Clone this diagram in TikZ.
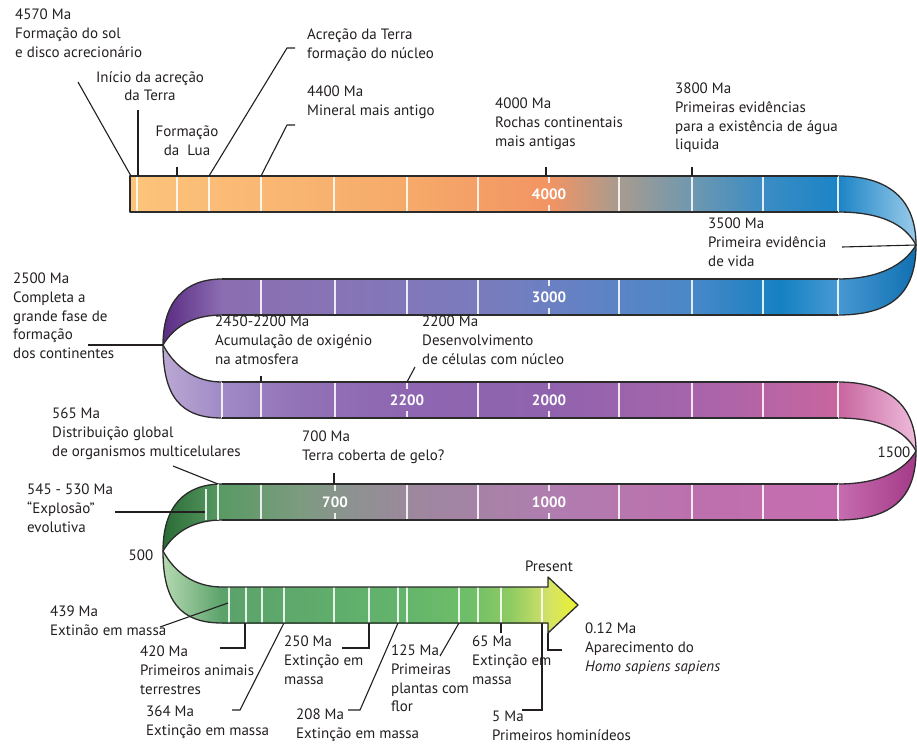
\documentclass[tikz,border=0pt]{standalone}
\usepackage{fontspec}
\setmainfont{PT Sans}
\newcommand\lblfont{\fontsize{15}{18.7}\selectfont}

\definecolor{ink}{HTML}{231F20}
\definecolor{rim}{HTML}{2B2B2B}
% ribbon colours, band by band
\definecolor{ba1}{HTML}{FCC47B}\definecolor{ba2}{HTML}{F6AA6A}\definecolor{ba3}{HTML}{F29463}
\definecolor{ba4}{HTML}{A79B90}\definecolor{ba5}{HTML}{6E98B0}\definecolor{ba6}{HTML}{3C8CC4}\definecolor{ba7}{HTML}{1B84C6}
\definecolor{bb1}{HTML}{8B6DB1}\definecolor{bb2}{HTML}{8774B6}\definecolor{bb3}{HTML}{7A7BBD}
\definecolor{bb4}{HTML}{6B80C2}\definecolor{bb5}{HTML}{4988C8}\definecolor{bb6}{HTML}{1581C2}\definecolor{bb7}{HTML}{4799D2}
\definecolor{bc1}{HTML}{A08AC6}\definecolor{bc2}{HTML}{9272B6}\definecolor{bc3}{HTML}{8E66B1}
\definecolor{bc4}{HTML}{9063AE}\definecolor{bc5}{HTML}{A864AB}\definecolor{bc6}{HTML}{C8659F}
\definecolor{bd1}{HTML}{5A9A64}\definecolor{bd2}{HTML}{7C9B80}\definecolor{bd3}{HTML}{8D9290}
\definecolor{bd4}{HTML}{9E879F}\definecolor{bd5}{HTML}{B07DAF}\definecolor{bd6}{HTML}{BD70AE}\definecolor{bd7}{HTML}{C66DB0}
\definecolor{be1}{HTML}{5BA26B}\definecolor{be2}{HTML}{63B46C}\definecolor{be3}{HTML}{6FBE68}
\definecolor{be4}{HTML}{8FCB63}\definecolor{be5}{HTML}{D3E267}
% colours of the turns
\definecolor{ta}{HTML}{9ACBEA}\definecolor{tb}{HTML}{1170B2}
\definecolor{tc}{HTML}{5A2C83}\definecolor{td}{HTML}{BBA8D3}
\definecolor{te}{HTML}{EEBCDB}\definecolor{tf}{HTML}{A43A88}
\definecolor{tg}{HTML}{2A6C37}\definecolor{th}{HTML}{B5D9B1}

\pgfdeclarehorizontalshading{bandone}{100bp}{color(0bp)=(ba1); color(25bp)=(ba1); color(44.6bp)=(ba2); color(54.6bp)=(ba3); color(59.6bp)=(ba4); color(64.7bp)=(ba5); color(69.7bp)=(ba6); color(75bp)=(ba7); color(100bp)=(ba7)}
\pgfdeclarehorizontalshading{bandtwo}{100bp}{color(0bp)=(bb1); color(25bp)=(bb1); color(34.2bp)=(bb2); color(45.8bp)=(bb3); color(51.5bp)=(bb4); color(63.1bp)=(bb5); color(70.3bp)=(bb6); color(75bp)=(bb7); color(100bp)=(bb7)}
\pgfdeclarehorizontalshading{bandthree}{100bp}{color(0bp)=(bc1); color(25bp)=(bc1); color(31.3bp)=(bc2); color(40bp)=(bc3); color(51.5bp)=(bc4); color(63.8bp)=(bc5); color(75bp)=(bc6); color(100bp)=(bc6)}
\pgfdeclarehorizontalshading{bandfour}{100bp}{color(0bp)=(bd1); color(25bp)=(bd1); color(31.3bp)=(bd2); color(35.4bp)=(bd3); color(41.1bp)=(bd4); color(51.5bp)=(bd5); color(63.8bp)=(bd6); color(75bp)=(bd7); color(100bp)=(bd7)}
\pgfdeclarehorizontalshading{bandfive}{100bp}{color(0bp)=(be1); color(25bp)=(be1); color(52.3bp)=(be2); color(63bp)=(be3); color(69.2bp)=(be4); color(75bp)=(be5); color(100bp)=(be5)}

\tikzset{
  rim/.style={draw=rim,line width=1.3pt,line join=round},
  tick/.style={draw=white,line width=1.4pt,opacity=.85},
  lead/.style={draw=ink,line width=1.1pt},
  lbl/.style={anchor=north west,inner sep=0pt,align=left,text=ink,font=\lblfont,execute at begin node=\rule{0pt}{14pt}},
  lblc/.style={lbl,anchor=north,align=center},
  num/.style={text=white,font=\lblfont\bfseries,inner sep=0pt},
}

% turn of the ribbon: top of upper band : apex : top of lower band
\def\turnright(#1:#2:#3)(#4)(#5){%
  \shade[#4] (838,#1) .. controls (895,#1) and (916,#1+29) .. (916,#2) .. controls (905,#2-21) and (880,#1+36) .. (838,#1+36) -- cycle;
  \shade[#5] (916,#2) .. controls (905,#2+19) and (880,#3) .. (838,#3) -- (838,#3+36) .. controls (895,#3+36) and (916,#3+11) .. (916,#2) -- cycle;
  \draw[rim] (838,#1) .. controls (895,#1) and (916,#1+29) .. (916,#2) .. controls (916,#3+11) and (895,#3+36) .. (838,#3+36);
  \draw[rim] (838,#1+36) .. controls (880,#1+36) and (905,#2-21) .. (916,#2) .. controls (905,#2+19) and (880,#3) .. (838,#3);
}
\def\turnleft(#1:#2:#3)(#4)(#5){%
  \shade[#4] (222,#1) .. controls (185,#1) and (163,#1+22) .. (163,#2) .. controls (175,#2-20) and (195,#1+36) .. (222,#1+36) -- cycle;
  \shade[#5] (163,#2) .. controls (175,#2+22) and (195,#3) .. (222,#3) -- (222,#3+36) .. controls (180,#3+36) and (163,#3+14) .. (163,#2) -- cycle;
  \draw[rim] (222,#1) .. controls (185,#1) and (163,#1+22) .. (163,#2) .. controls (175,#2+22) and (195,#3) .. (222,#3);
  \draw[rim] (222,#1+36) .. controls (195,#1+36) and (175,#2-20) .. (163,#2) .. controls (163,#3+14) and (180,#3+36) .. (222,#3+36);
}

\begin{document}
\begin{tikzpicture}[x=1pt,y=-1pt]
\useasboundingbox (0,0) rectangle (917,747);

% straight bands
\shade[shading=bandone] (130,176) rectangle (838,212);
\shade[shading=bandtwo] (222,279) rectangle (838,315);
\shade[shading=bandthree] (222,382) rectangle (838,418);
\shade[shading=bandfour] (222,484) rectangle (838,520);
\shade[shading=bandfive] (222,587) rectangle (548,623);
\shade[left color=be5,right color=yellow!55!be5] (548,577) -- (578,605) -- (548,633) -- cycle;

% turns
\turnright(176:245:279)(left color=ba7,right color=ta)(left color=bb7,right color=tb)
\turnleft(279:345:382)(left color=tc,right color=bb1)(left color=td,right color=bc1)
\turnright(382:451:484)(left color=bc6,right color=te)(left color=bd7,right color=tf)
\turnleft(484:551:587)(left color=tg,right color=bd1)(left color=th,right color=be1)

% ticks
\foreach \x in {137,177,209,261,334,407,478,619,692,763,838} \draw[tick] (\x,176) -- (\x,212);
\foreach \x in {261,335,407,478,619,692,763,838} \draw[tick] (\x,279) -- (\x,315);
\foreach \x in {222,261,335,478,619,692,763,838} \draw[tick] (\x,382) -- (\x,418);
\foreach \x in {218,261,407,478,619,692,763,838} \draw[tick] (\x,484) -- (\x,520);
\draw[tick] (206,489) -- (206,520);
\foreach \x in {229,246,262,284,334,369,398,407,459,478,501,542} \draw[tick] (\x,587) -- (\x,623);
\foreach \x/\y in {549/176,549/279,407/382,549/382,335/484,549/484} \draw[tick] (\x,\y) -- (\x,\y+7) (\x,\y+29) -- (\x,\y+36);

% outline
\draw[rim] (838,176) -- (130,176) -- (130,212) -- (838,212);
\draw[rim] (222,279) -- (838,279) (222,315) -- (838,315);
\draw[rim] (222,382) -- (838,382) (222,418) -- (838,418);
\draw[rim] (222,484) -- (838,484) (222,520) -- (838,520);
\draw[rim] (222,587) -- (548,587) -- (548,577) -- (578,605) -- (548,633) -- (548,623) -- (222,623);

% numbers on the ribbon
\node[num] (n4000) at (549,194) {4000};
\node[num] (n3000) at (549,297) {3000};
\node[num] (n2200) at (407,400) {2200};
\node[num] (n2000) at (549,400) {2000};
\node[num] (n700) at (335,502) {700};
\node[num] (n1000) at (549,502) {1000};
\node[font=\lblfont,text=ink,inner sep=0pt] (n1500) at (894,452) {1500};
\node[font=\lblfont,text=ink,inner sep=0pt] (n500) at (141,555) {500};
\node[font=\lblfont,text=ink,inner sep=0pt] (present) at (549,566) {Present};

% events
\node[lbl] (l4570) at (15,9) {4570 Ma\\Formação do sol\\e disco acrecionário};
\node[lblc] (linicio) at (150,71) {Início da acreção\\da Terra};
\node[lblc] (llua) at (187,126) {Formação\\da\ \ Lua};
\node[lbl] (lacrecao) at (307,29) {Acreção da Terra\\formação do núcleo};
\node[lbl] (l4400) at (307,86) {4400 Ma\\Mineral mais antigo};
\node[lbl] (l4000) at (495,98) {4000 Ma\\Rochas continentais\\mais antigas};
\node[lbl] (l3800) at (675,83) {3800 Ma\\Primeiras evidências\\para a existência de água\\liquida};
\node[lbl] (l3500) at (708,218) {3500 Ma\\Primeira evidência\\de vida};
\node[lbl] (l2500) at (13,273) {2500 Ma\\Completa a\\grande fase de\\formação\\dos continentes};
\node[lbl] (l2450) at (215,316) {2450-2200 Ma\\Acumulação de oxigénio\\na atmosfera};
\node[lbl] (l2200) at (422,316) {2200 Ma\\Desenvolvimento\\de células com núcleo};
\node[lbl] (l565) at (52,408) {565 Ma\\Distribuição global\\de organismos multicelulares};
\node[lbl] (l700) at (302,431) {700 Ma\\Terra coberta de gelo?};
\node[lbl] (l545) at (27,484) {545 - 530 Ma\\“Explosão”\\evolutiva};
\node[lbl] (l439) at (50,606) {439 Ma\\Extinão em massa};
\node[lbl] (l420) at (140,646) {420 Ma\\Primeiros animais\\terrestres};
\node[lbl] (l364) at (146,706) {364 Ma\\Extinção em massa};
\node[lbl] (l250) at (284,636) {250 Ma\\Extinção em\\massa};
\node[lbl] (l208) at (296,709) {208 Ma\\Extinção em massa};
\node[lbl] (l125) at (391,645) {125 Ma\\Primeiras\\plantas com\\flor};
\node[lbl] (l65) at (472,636) {65 Ma\\Extinção em\\massa};
\node[lbl] (l5) at (492,711) {5 Ma\\Primeiros hominídeos};
\node[lbl] (l012) at (585,623) {0.12 Ma\\Aparecimento do\\\textit{Homo sapiens sapiens}};

% leader ends
\coordinate (s4570) at (78,82);    \coordinate (e4570) at (131,176);
\coordinate (sinicio) at (138,110); \coordinate (einicio) at (138,176);
\coordinate (slua) at (177,167);    \coordinate (elua) at (177,176);
\coordinate (sacrecao) at (295,48); \coordinate (eacrecao) at (209,176);
\coordinate (s4400) at (295,125);   \coordinate (e4400) at (261,176);
\coordinate (s4000) at (546,167);   \coordinate (e4000) at (546,176);
\coordinate (s3800) at (692,167);   \coordinate (e3800) at (692,176);
\coordinate (s3500) at (842,247);   \coordinate (e3500) at (916,245);
\coordinate (s2500) at (88,345);    \coordinate (e2500) at (163,345);
\coordinate (s2450) at (261,376);   \coordinate (e2450) at (261,382);
\coordinate (s2200) at (415,367);   \coordinate (e2200) at (407,382);
\coordinate (s565) at (173,466);    \coordinate (e565) at (218,484);
\coordinate (s700) at (334,473);    \coordinate (e700) at (334,484);
\coordinate (s545) at (115,512);    \coordinate (e545) at (205,512);
\coordinate (s439) at (160,627);    \coordinate (e439) at (228,603);
\coordinate (s420) at (220,648);    \coordinate (e420) at (245,623);
\coordinate (s364) at (232,710);    \coordinate (e364) at (284,623);
\coordinate (s250) at (342,648);    \coordinate (e250) at (369,623);
\coordinate (s208) at (348,710);    \coordinate (e208) at (398,623);
\coordinate (s125) at (440,656);    \coordinate (e125) at (459,623);
\coordinate (s65) at (501,633);     \coordinate (e65) at (501,623);
\coordinate (s5) at (522,710);      \coordinate (e5) at (542,623);
\coordinate (s012) at (562,650);    \coordinate (e012) at (548,633);

\draw[lead] (s4570) -- (e4570);
\draw[lead] (sinicio) -- (einicio);
\draw[lead] (slua) -- (elua);
\draw[lead] (sacrecao) -- ++(-8,0) -- (eacrecao);
\draw[lead] (s4400) -- ++(-8,0) -- (e4400);
\draw[lead] (s4000) -- (e4000);
\draw[lead] (s3800) -- (e3800);
\draw[lead] (s3500) -- (e3500);
\draw[lead] (s2500) -- (e2500);
\draw[lead] (s2450) -- (e2450);
\draw[lead] (s2200) -- (e2200);
\draw[lead] (s565) -- (e565);
\draw[lead] (s700) -- (e700);
\draw[lead] (s545) -- (e545);
\draw[lead] (s439) -- (e439);
\draw[lead] (s420) -| (e420);
\draw[lead] (s364) -- ++(8,0) -- (e364);
\draw[lead] (s250) -| (e250);
\draw[lead] (s208) -- ++(12,0) -- (e208);
\draw[lead] (s125) -- (e125);
\draw[lead] (s65) -- (e65);
\draw[lead] (s5) -| (e5);
\draw[lead] (s012) -| (e012);
\end{tikzpicture}
\end{document}
